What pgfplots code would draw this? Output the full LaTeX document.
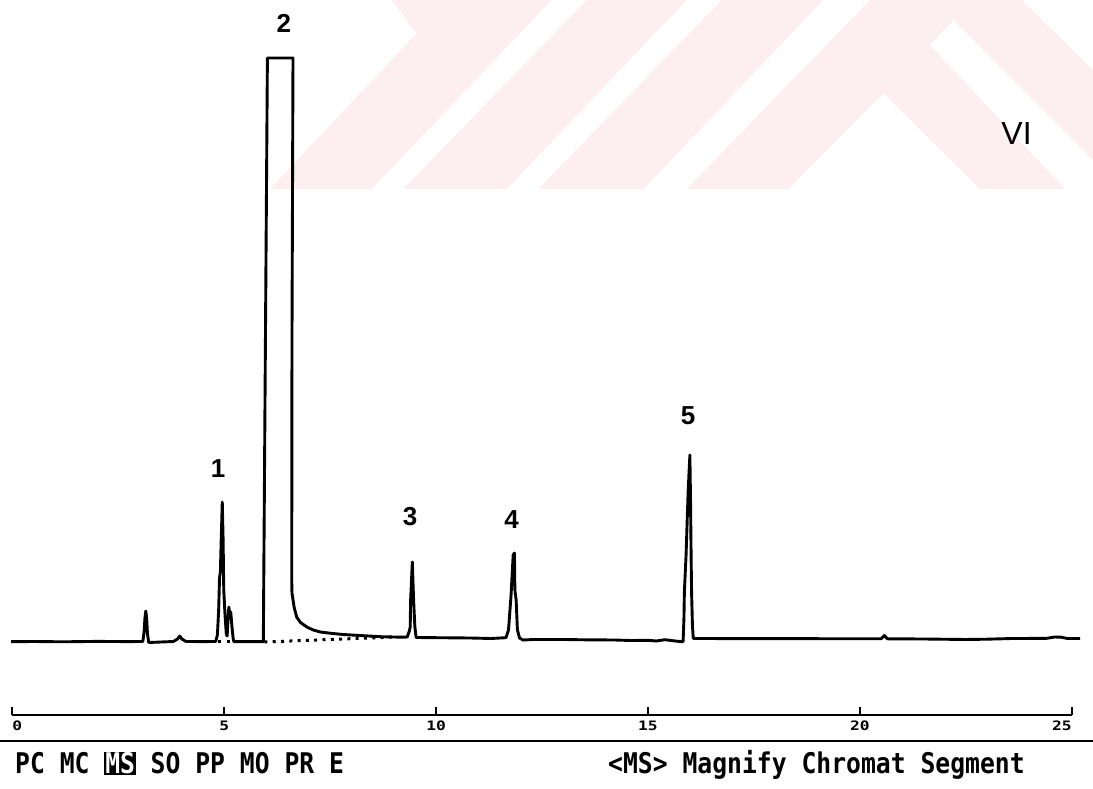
\documentclass[border=0pt]{standalone}
\usepackage{fontspec}
\setmainfont{Liberation Sans}
\newfontfamily\menufont[FakeStretch=0.867]{DejaVu Sans Mono}
\newfontfamily\tickfont[FakeStretch=1.25]{DejaVu Sans Mono}
\usepackage{pgfplots}
\pgfplotsset{compat=1.18}
\definecolor{wm}{RGB}{253,238,241}
\setlength{\fboxsep}{0.8pt}
\begin{document}
\begin{tikzpicture}
\useasboundingbox (0,0) rectangle (1093pt,788pt);
% background watermark and menu line, in pixel coordinates (y downwards)
\begin{scope}[x=1pt,y=-1pt,yshift=788pt]
 \fill[wm] (391.7,0) -- (551.7,0) -- (371.7,189) -- (270,189) -- (416.7,33.3) -- cycle;
 \fill[wm] (586.7,0) -- (686.7,0) -- (506.7,189) -- (403.3,189) -- cycle;
 \fill[wm] (721.7,0) -- (823.3,0) -- (643.3,189) -- (538.3,189) -- cycle;
 \fill[wm] (870,0) -- (1021.7,0) -- (1093,70) -- (1093,160) -- (953.3,20) -- (930,45)
   -- (1065,189) -- (980,189) -- (883.3,93.3) -- (788.3,189) -- (686.7,189) -- cycle;
 \draw[line width=2.6pt] (0,741) -- (1093,741);
 \node[anchor=base west, inner sep=0pt, font=\menufont\bfseries\fontsize{28.5}{30}\selectfont]
   at (15,773.5) {PC MC \colorbox{black}{\textcolor{white}{MS}} SO PP MO PR E};
 \node[anchor=base west, inner sep=0pt, font=\menufont\bfseries\fontsize{28.5}{30}\selectfont]
   at (608,773.5) {<MS> Magnify Chromat Segment};
\end{scope}

\begin{axis}[at={(0pt,0pt)}, anchor=south west, scale only axis,
  width=1093pt, height=788pt,
  xmin=-0.2903, xmax=25.503, ymin=-148, ymax=640,
  hide axis, clip=false]
\addplot[black, line width=2.9pt, line join=round] coordinates {
(-0.03,-1.7) (0.5,-1.5) (1.2,-1.8) (2.0,-1.4) (2.7,-1.6) (3.08,-1.5)
(3.11,8) (3.13,22) (3.15,29) (3.17,22) (3.19,6) (3.22,-2.5) (3.40,-2.2)
(3.80,-1.5) (3.90,1) (3.95,4) (4.00,1) (4.10,-1.5) (4.50,-1.6) (4.80,-1.5)
(4.84,5) (4.87,30) (4.89,62) (4.91,68) (4.93,100) (4.955,138) (4.975,100)
(4.99,50) (5.02,25) (5.05,6) (5.07,4) (5.09,20) (5.11,33) (5.13,26) (5.155,28)
(5.18,15) (5.21,2) (5.23,-1.7) (5.50,-1.6) (5.90,-1.7)
(5.924,-1.5) (6.02,582) (6.624,582) (6.60,300) (6.594,60) (6.60,47)
(6.65,33) (6.71,23) (6.80,17.5) (6.95,13) (7.10,10) (7.27,8) (7.50,6.8)
(7.80,5.5) (8.20,4.5) (8.70,3.3) (9.20,2.8)
(9.32,3) (9.37,9) (9.39,13) (9.40,40) (9.44,78) (9.47,40) (9.50,13) (9.53,2.5)
(10.0,2.3) (10.8,2) (11.3,1.5)
(11.65,2.3) (11.71,10) (11.77,45) (11.82,85) (11.85,87) (11.86,50) (11.89,40)
(11.92,10) (11.97,2) (12.05,0)
(12.3,0.5) (13.0,0.5) (13.5,0.2) (14.2,0) (14.6,-0.5) (15.0,-0.3) (15.2,-1)
(15.4,0.3) (15.6,-0.8) (15.80,-1.7)
(15.83,-1.5) (15.85,22) (15.86,48) (15.90,85) (15.95,150) (15.99,185)
(16.005,140) (16.02,80) (16.03,48) (16.05,15) (16.07,1.5)
(16.3,1.5) (17.5,1.3) (19.0,1.3) (20.5,1.2) (20.58,4.5) (20.65,1.2)
(21.5,1) (22.5,0.5) (23.0,0.8) (23.6,1.5) (24.4,1.6) (24.6,3) (24.75,2.8)
(24.9,1.5) (25.20,1.5)
};
\addplot[black, line width=3pt, dash pattern=on 3pt off 5.3pt]
  coordinates {(5.95,-2) (9.03,3)};
\addplot[black, line width=3pt, dash pattern=on 3pt off 5.3pt]
  coordinates {(4.86,-2) (5.22,-2)};
\node[font=\bfseries\fontsize{26}{26}\selectfont] at (axis cs:4.854,171) {1};
\node[font=\bfseries\fontsize{26}{26}\selectfont] at (axis cs:6.41,617) {2};
\node[font=\bfseries\fontsize{26}{26}\selectfont] at (axis cs:9.385,123) {3};
\node[font=\bfseries\fontsize{26}{26}\selectfont] at (axis cs:11.785,120) {4};
\node[font=\bfseries\fontsize{26}{26}\selectfont] at (axis cs:15.945,224.5) {5};
\node[font=\fontsize{32}{32}\selectfont] at (axis cs:23.70,506.7) {VI};
\end{axis}

\begin{axis}[at={(12.3pt,73pt)}, anchor=south west, scale only axis,
  width=1059.4pt, height=10pt,
  xmin=0, xmax=25, ymin=0, ymax=1,
  axis x line=bottom, axis y line=none,
  x axis line style={-, line width=2.6pt},
  xtick={0,5,10,15,20,25},
  xticklabels={\makebox[0pt][l]{0},5,10,15,20,\makebox[0pt][r]{25}},
  xtick align=inside, major tick length=8pt,
  tick style={line width=1.8pt, black},
  ytick=\empty,
  xticklabel style={font=\tickfont\bfseries\fontsize{13}{13}\selectfont, yshift=-2.5pt}]
\addplot[draw=none] coordinates {(0,0) (25,1)};
\end{axis}
\path (0,0) rectangle (1093pt,788pt);
\end{tikzpicture}
\end{document}
